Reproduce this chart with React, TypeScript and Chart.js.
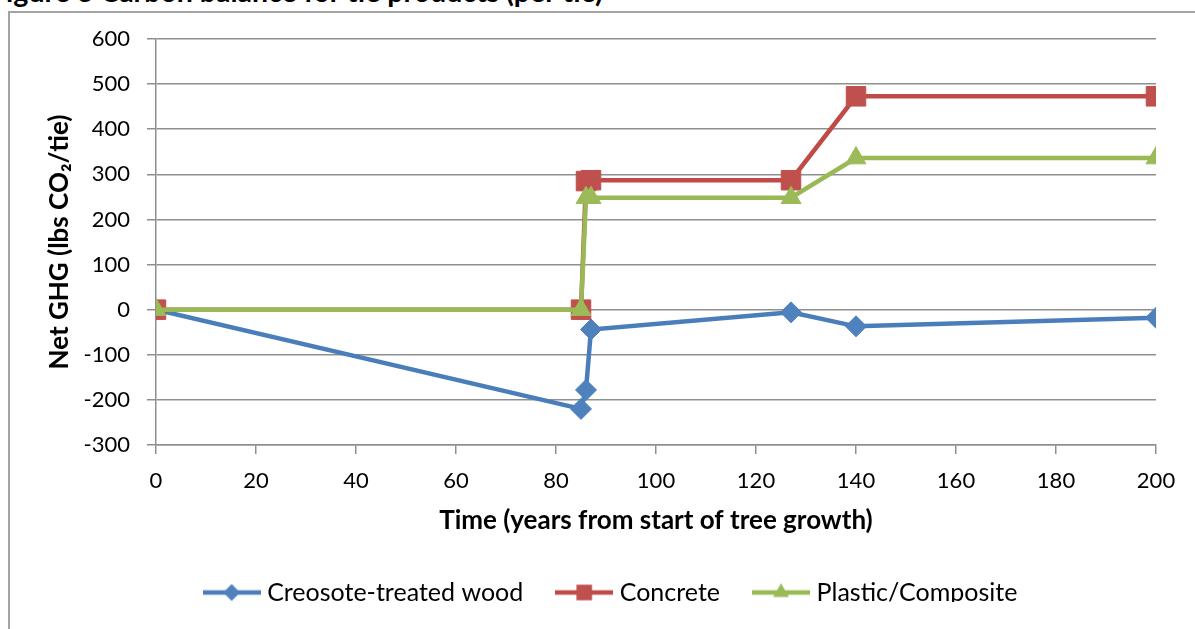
import React, { useEffect, useRef } from "react";
import { Chart, registerables } from "chart.js";

Chart.register(...registerables);

const seriesNames = ["Creosote-treated wood", "Concrete", "Plastic/Composite"];
const creosoteX = [0, 85, 86, 87, 127, 140, 200];
const creosoteY = [0, -220, -178, -44, -6, -37, -18];
const concreteX = [0, 85, 86, 87, 127, 140, 200];
const concreteY = [0, 0, 285, 287, 287, 473, 473];
const plasticX = [0, 85, 86, 87, 127, 140, 200];
const plasticY = [0, 0, 248, 248, 248, 336, 336];
const xTicks = [0, 20, 40, 60, 80, 100, 120, 140, 160, 180, 200];
const yTicks = [-300, -200, -100, 0, 100, 200, 300, 400, 500, 600];

const titleText = "Figure 3 Carbon balance for tie products (per tie)";
const xTitle = "Time (years from start of tree growth)";
const yTitle = "Net GHG (lbs CO\u2082/tie)";

const lineColors = ["#4A7EBB", "#BE4B48", "#98B954"];
const markerColors = ["#4F81BD", "#C0504D", "#9BBB59"];
const markerStyles = ["rectRot", "rect", "triangle"];
const markerRadius = [10.5, 13.8, 11.5];

const FONT = "Lato, 'Open Sans', sans-serif";

function drawShape(ctx: CanvasRenderingContext2D, style: string, cx: number, cy: number, r: number) {
  ctx.beginPath();
  if (style === "rectRot") {
    ctx.moveTo(cx, cy - r);
    ctx.lineTo(cx + r, cy);
    ctx.lineTo(cx, cy + r);
    ctx.lineTo(cx - r, cy);
  } else if (style === "rect") {
    const s = r * Math.SQRT1_2;
    ctx.rect(cx - s, cy - s, 2 * s, 2 * s);
  } else {
    const w = (r * Math.sqrt(3)) / 2;
    ctx.moveTo(cx, cy - r);
    ctx.lineTo(cx + w, cy + r / 2);
    ctx.lineTo(cx - w, cy + r / 2);
  }
  ctx.closePath();
  ctx.fill();
}

function legendImage(i: number): HTMLCanvasElement {
  const c = document.createElement("canvas");
  c.width = 58;
  c.height = 26;
  const ctx = c.getContext("2d")!;
  ctx.strokeStyle = lineColors[i];
  ctx.lineWidth = 4.5;
  ctx.beginPath();
  ctx.moveTo(0, 13);
  ctx.lineTo(58, 13);
  ctx.stroke();
  ctx.fillStyle = markerColors[i];
  drawShape(ctx, markerStyles[i], 29, 13, markerRadius[i] * 0.8);
  return c;
}

function pts(xs: number[], ys: number[]) {
  return xs.map((x, i) => ({ x, y: ys[i] }));
}

export default function App() {
  const ref = useRef<HTMLCanvasElement | null>(null);

  useEffect(() => {
    if (!ref.current) return;
    const imgs = [0, 1, 2].map(legendImage);
    const data = [pts(creosoteX, creosoteY), pts(concreteX, concreteY), pts(plasticX, plasticY)];
    const chart = new Chart(ref.current, {
      type: "line",
      data: {
        datasets: data.map((d, i) => ({
          label: seriesNames[i],
          data: d,
          borderColor: lineColors[i],
          backgroundColor: markerColors[i],
          borderWidth: 4.5,
          pointStyle: markerStyles[i] as any,
          pointRadius: markerRadius[i],
          pointBackgroundColor: markerColors[i],
          pointBorderColor: markerColors[i],
          pointBorderWidth: 1,
          tension: 0,
          order: 3 - i,
        })),
      },
      options: {
        animation: false,
        responsive: false,
        devicePixelRatio: 1,
        layout: { padding: { left: 70, top: 39, right: 39, bottom: 27 } },
        plugins: {
          tooltip: { enabled: false },
          legend: {
            position: "bottom",
            maxHeight: 60,
            labels: {
              usePointStyle: true,
              pointStyleWidth: 46,
              padding: 38,
              color: "#000",
              font: { family: FONT, size: 25 },
              generateLabels: (ch: any) =>
                ch.data.datasets.map((ds: any, i: number) => ({
                  text: ds.label,
                  pointStyle: imgs[i],
                  fillStyle: markerColors[i],
                  strokeStyle: lineColors[i],
                  lineWidth: 0,
                  hidden: false,
                  datasetIndex: i,
                  fontColor: "#000",
                })),
            },
          },
        },
        scales: {
          x: {
            type: "linear",
            min: 0,
            max: 200,
            afterFit: (s: any) => {
              s.height = 97;
            },
            afterBuildTicks: (s: any) => {
              s.ticks = xTicks.map((v) => ({ value: v }));
            },
            ticks: {
              color: "#000",
              font: { family: FONT, size: 22 },
              padding: 14,
              maxRotation: 0,
            },
            grid: {
              drawOnChartArea: false,
              drawTicks: true,
              tickLength: 9,
              color: "#8f8f8f",
              lineWidth: 1.5,
            },
            border: { display: true, color: "#8f8f8f", width: 1.5 },
            title: {
              display: true,
              text: xTitle,
              color: "#000",
              font: { family: FONT, size: 26, weight: "bold" },
              padding: { top: 0, bottom: 5.4 },
            },
          },
          y: {
            type: "linear",
            min: -300,
            max: 600,
            afterFit: (s: any) => {
              s.width = 86;
            },
            afterBuildTicks: (s: any) => {
              s.ticks = yTicks.map((v) => ({ value: v }));
            },
            ticks: {
              color: "#000",
              font: { family: FONT, size: 22 },
              padding: 17,
            },
            grid: {
              drawOnChartArea: true,
              drawTicks: true,
              tickLength: 9,
              color: "#8f8f8f",
              lineWidth: 1.5,
            },
            border: { display: true, color: "#8f8f8f", width: 1.5 },
            title: {
              display: true,
              text: yTitle,
              color: "#000",
              font: { family: FONT, size: 26, weight: "bold" },
              padding: { top: -25.6, bottom: 0 },
            },
          },
        },
      },
    });
    return () => chart.destroy();
  }, []);

  return (
    <div
      style={{
        position: "fixed",
        left: 0,
        top: 0,
        width: 1195,
        height: 629,
        overflow: "hidden",
        background: "#fff",
      }}
    >
      <div
        style={{
          position: "absolute",
          left: -10,
          top: -22.8,
          whiteSpace: "nowrap",
          fontFamily: FONT,
          fontWeight: "bold",
          fontSize: 28.5,
          lineHeight: "28.5px",
          color: "#000",
        }}
      >
        {titleText}
      </div>
      <div
        style={{
          position: "absolute",
          left: 8,
          top: 11,
          width: 1400,
          height: 800,
          borderLeft: "2px solid #a3a3a3",
          borderTop: "2px solid #a3a3a3",
        }}
      />
      <canvas
        ref={ref}
        width={1195}
        height={629}
        style={{ position: "absolute", left: 0, top: 0, width: 1195, height: 629 }}
      />
    </div>
  );
}
